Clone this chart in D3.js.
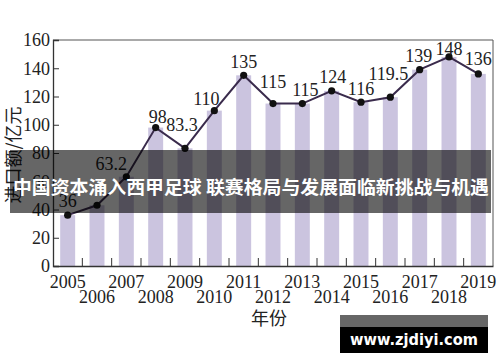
<!DOCTYPE html>
<html>
<head>
<meta charset="utf-8">
<script src="https://cdn.jsdelivr.net/npm/d3@7"></script>
<style>
  body { margin: 0; background: #fff; }
  svg { display: block; }
</style>
</head>
<body>
<svg id="chart" width="500" height="362"></svg>
<script>
// data
var years = ['2005', '2006', '2007', '2008', '2009', '2010', '2011', '2012',
  '2013', '2014', '2015', '2016', '2017', '2018', '2019'];
var values = [36, 43, 63.2, 98, 83.3, 110, 135, 115, 115, 124, 116, 119.5, 139, 148, 136];
var labels = ['36', '', '63.2', '98', '83.3', '110', '135', '115', '115', '124', '116', '119.5', '139', '148', '136'];
var yTicks = [0, 20, 40, 60, 80, 100, 120, 140, 160];

// label nudges [dx, dy] relative to each point
var labelOffsets = [[0, -8], [0, -8], [-15, -7], [2, -5], [-3, -17], [-8, -6], [0, -7], [0, -16],
  [3, -8], [1, -8], [0, -7], [-2, -17], [-1, -8], [0, -2], [0, -9]];

var M = { left: 53, right: 493, top: 40, bottom: 266 };
var SERIF = '"Liberation Serif", "DejaVu Serif", serif';
var CJK = '"Noto Sans CJK SC", sans-serif';

var svg = d3.select('#chart');

var x = d3.scaleBand().domain(years).range([M.left, M.right]).padding(0);
var y = d3.scaleLinear().domain([0, 160]).range([M.bottom, M.top]);
var bw = x.bandwidth();
var barW = bw * 0.51;

// bars
svg.append('g').selectAll('rect')
  .data(values)
  .enter().append('rect')
  .attr('x', function (d, i) { return x(years[i]) + (bw - barW) / 2; })
  .attr('y', function (d) { return y(d); })
  .attr('width', barW)
  .attr('height', function (d) { return y(0) - y(d); })
  .attr('fill', '#cbc4df');

// frame top/right
svg.append('path')
  .attr('d', 'M' + M.left + ',' + M.top + 'H' + M.right + 'V' + M.bottom)
  .attr('fill', 'none')
  .attr('stroke', '#555')
  .attr('stroke-width', 1);

// y axis
var yAxis = svg.append('g')
  .attr('transform', 'translate(' + M.left + ',0)')
  .call(d3.axisLeft(y).tickValues(yTicks).tickSize(-6).tickPadding(3));
yAxis.select('.domain').attr('stroke', '#333').attr('stroke-width', 1.3);
yAxis.selectAll('.tick line').attr('stroke', '#333');
yAxis.selectAll('text')
  .attr('font-size', 18)
  .attr('font-family', SERIF)
  .attr('fill', '#222');

// x axis
var xAxis = svg.append('g')
  .attr('transform', 'translate(0,' + M.bottom + ')')
  .call(d3.axisBottom(x).tickSize(0).tickPadding(0));
xAxis.select('.domain').attr('stroke', '#333').attr('stroke-width', 1.3);
xAxis.selectAll('text')
  .attr('font-size', 18)
  .attr('font-family', SERIF)
  .attr('fill', '#222')
  .attr('dy', null)
  .attr('y', function (d, i) { return i % 2 === 0 ? 22 : 37; });

// inward ticks between categories
svg.append('g').selectAll('line')
  .data(years.slice(1))
  .enter().append('line')
  .attr('x1', function (d) { return x(d); })
  .attr('x2', function (d) { return x(d); })
  .attr('y1', M.bottom)
  .attr('y2', M.bottom - 8)
  .attr('stroke', '#333');

// line + points
var line = d3.line()
  .x(function (d, i) { return x(years[i]) + bw / 2; })
  .y(function (d) { return y(d); });

svg.append('path')
  .datum(values)
  .attr('d', line)
  .attr('fill', 'none')
  .attr('stroke', '#3a2b4c')
  .attr('stroke-width', 2);

svg.append('g').selectAll('circle')
  .data(values)
  .enter().append('circle')
  .attr('cx', function (d, i) { return x(years[i]) + bw / 2; })
  .attr('cy', function (d) { return y(d); })
  .attr('r', 3.6)
  .attr('fill', '#111');

svg.append('g').selectAll('text')
  .data(values)
  .enter().append('text')
  .attr('x', function (d, i) { return x(years[i]) + bw / 2 + labelOffsets[i][0]; })
  .attr('y', function (d, i) { return y(d) + labelOffsets[i][1]; })
  .attr('text-anchor', 'middle')
  .attr('font-family', SERIF)
  .attr('font-size', 18)
  .attr('fill', '#222')
  .text(function (d, i) { return labels[i]; });

// axis titles
svg.append('text')
  .attr('transform', 'translate(20,155) rotate(-90)')
  .attr('text-anchor', 'middle')
  .attr('font-family', CJK)
  .attr('font-size', 18)
  .attr('fill', '#222')
  .text('进口额/亿元');

svg.append('text')
  .attr('x', 269)
  .attr('y', 325)
  .attr('text-anchor', 'middle')
  .attr('font-family', CJK)
  .attr('font-size', 18)
  .attr('fill', '#222')
  .text('年份');

// overlay banner
svg.append('rect')
  .attr('x', 10).attr('y', 150)
  .attr('width', 481).attr('height', 63)
  .attr('fill', 'rgba(0,0,0,0.6)');
svg.append('text')
  .attr('x', 251)
  .attr('y', 186)
  .attr('text-anchor', 'middle')
  .attr('dominant-baseline', 'central')
  .attr('font-family', CJK)
  .attr('font-weight', 'bold')
  .attr('font-size', 18)
  .attr('textLength', 476)
  .attr('lengthAdjust', 'spacingAndGlyphs')
  .attr('fill', '#fff')
  .text('中国资本涌入西甲足球 联赛格局与发展面临新挑战与机遇');

// watermark
svg.append('rect')
  .attr('x', 340).attr('y', 315)
  .attr('width', 148).attr('height', 12)
  .attr('fill', '#666');
svg.append('rect')
  .attr('x', 340).attr('y', 327)
  .attr('width', 148).attr('height', 26)
  .attr('fill', '#000');
svg.append('text')
  .attr('x', 414)
  .attr('y', 339)
  .attr('text-anchor', 'middle')
  .attr('dominant-baseline', 'central')
  .attr('font-family', '"DejaVu Sans", sans-serif')
  .attr('font-weight', 'bold')
  .attr('font-size', 16)
  .attr('textLength', 128)
  .attr('lengthAdjust', 'spacingAndGlyphs')
  .attr('fill', '#fff')
  .text('www.zjdiyi.com');
</script>
</body>
</html>
